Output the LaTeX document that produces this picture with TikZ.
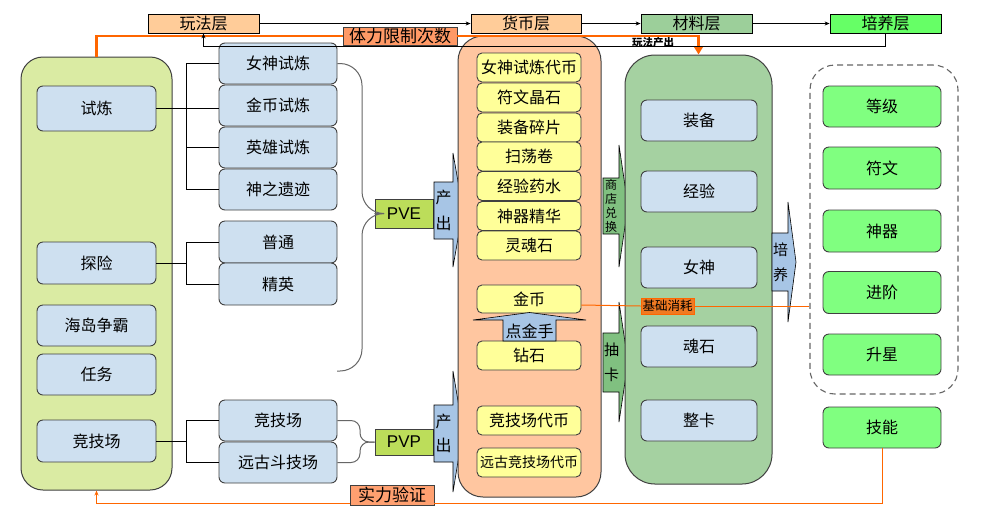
\documentclass[tikz,border=0pt]{standalone}
\usepackage{fontspec}
\setmainfont{Noto Sans CJK SC}
\newfontfamily\latinfont{Liberation Sans}
\usetikzlibrary{arrows.meta,calc}
\newcommand\myfs[2]{\fontsize{#1}{#2}\selectfont}
\definecolor{hOrange}{HTML}{FFCC99}
\definecolor{hMat}{HTML}{9CCF9A}
\definecolor{hGreen}{HTML}{66FF66}
\definecolor{lcFill}{HTML}{DAEBA3}
\definecolor{blueF}{HTML}{CEE0F0}
\definecolor{yellowF}{HTML}{FFFF99}
\definecolor{greenF}{HTML}{80FF80}
\definecolor{ocFill}{HTML}{FFC6A0}
\definecolor{mcFill}{HTML}{A5D1A1}
\definecolor{pvFill}{HTML}{BCDD5A}
\definecolor{arBlue}{HTML}{A7C5E5}
\definecolor{arGreen}{HTML}{80C080}
\definecolor{orLine}{HTML}{FF6600}
\definecolor{lblA}{HTML}{FF9966}
\definecolor{lblB}{HTML}{FFA070}
\definecolor{lblC}{HTML}{F07A22}
\definecolor{bordr}{HTML}{404040}
\tikzset{
  hdr/.style={draw=black, line width=0.8, minimum width=111, minimum height=19, inner sep=0, font=\myfs{16}{16}},
  cont/.style={draw=bordr, line width=1},
  itembox/.style={draw=bordr, line width=0.9, inner sep=0, font=\myfs{16}{16}},
  bbox/.style={itembox, fill=blueF, rounded corners=6, minimum width=119, minimum height=41},
  ybox/.style={itembox, fill=yellowF, rounded corners=5, minimum width=104, minimum height=29},
  gbox/.style={itembox, fill=greenF, rounded corners=6, minimum width=118, minimum height=41},
  mbox/.style={itembox, fill=blueF, rounded corners=6, minimum width=116, minimum height=41},
  pvbox/.style={draw=bordr, line width=0.9, fill=pvFill, minimum width=58, inner sep=0, font=\latinfont\myfs{17}{17}},
  bracket/.style={draw=black, line width=0.9},
  brace/.style={draw=bordr!80, line width=1},
  barrow/.style={draw=black, line width=0.6},
  vtext/.style={inner sep=0, align=center},
  thinarrow/.style={draw=black, line width=0.8, -{Stealth[length=5,width=4]}},
  olabel/.style={draw=bordr, line width=0.8, inner sep=0, font=\myfs{17}{17}},
}
\begin{document}
\begin{tikzpicture}[x=1pt,y=-1pt]
\useasboundingbox[fill=white] (0,0) rectangle (981,515);

% header row
\node[hdr, fill=hOrange] (h1) at (203.5,23.5) {玩法层};
\node[hdr, fill=hOrange, minimum width=110] (h2) at (526,23.5) {货币层};
\node[hdr, fill=hMat] (h3) at (696.5,23.5) {材料层};
\node[hdr, fill=hGreen] (h4) at (885.5,23.5) {培养层};
\draw[thinarrow] (h1) -- (h2);
\draw[thinarrow] (h2) -- (h3);
\draw[thinarrow] (h3) -- (h4);

% left container
\node[cont, fill=lcFill, rounded corners=22, minimum width=151, minimum height=433] (lc) at (96.5,273.5) {};
\node[bbox, minimum height=45] (sl) at (96.5,108.5) {试炼};
\node[bbox, minimum height=42] (tx) at (96.5,263) {探险};
\node[bbox] (hd) at (96.5,325.5) {海岛争霸};
\node[bbox] (rw) at (96.5,374.5) {任务};
\node[bbox, minimum height=42] (jj) at (96.5,441) {竞技场};

% middle column
\node[bbox, minimum width=118] (m1) at (278,63.5) {女神试炼};
\node[bbox, minimum width=118] (m2) at (278,105.5) {金币试炼};
\node[bbox, minimum width=118] (m3) at (278,147.5) {英雄试炼};
\node[bbox, minimum width=118] (m4) at (278,189.5) {神之遗迹};
\node[bbox, minimum width=118, minimum height=42] (m5) at (278,242) {普通};
\node[bbox, minimum width=118, minimum height=42] (m6) at (278,284) {精英};
\node[bbox, minimum width=118] (m7) at (278,420.5) {竞技场};
\node[bbox, minimum width=118] (m8) at (278,462.5) {远古斗技场};

% brackets
\coordinate (bx) at (186.5,0);
\draw[bracket] (m1.west) -- (m1.west -| bx) -- (m4.west -| bx) -- (m4.west);
\draw[bracket] (m3.west) -- (m3.west -| bx);
\draw[bracket] (sl.east) -- (sl.east -| m2.west);
\draw[bracket] (m5.west) -- (m5.west -| bx) -- (m6.west -| bx) -- (m6.west);
\draw[bracket] (tx.east) -- (tx.east -| bx);
\draw[bracket] (m7.west) -- (m7.west -| bx) -- (m8.west -| bx) -- (m8.west);
\draw[bracket] (jj.east) -- (jj.east -| bx);

% PVE / PVP
\node[pvbox, minimum height=29] (pve) at (404,213.5) {PVE};
\node[pvbox, minimum height=26] (pvp) at (404,442) {PVP};
\coordinate (bv) at (362,0);
\coordinate (be) at (337,371);
\draw[brace, rounded corners=22] (m1.east) -- (m1.east -| bv) -- (bv |- pve.west) -- (pve.west);
\draw[brace, rounded corners=22] (pve.west) -- (bv |- pve.west) -- (bv |- be) -- (be);
\coordinate (bv2) at (360,0);
\draw[brace, rounded corners=9] (m7.east) -- (m7.east -| bv2) -- (bv2 |- pvp.west) -- (pvp.west);
\draw[brace, rounded corners=9] (m8.east) -- (m8.east -| bv2) -- (bv2 |- pvp.west) -- (pvp.west);

% block arrows into currency / materials
\draw[barrow, fill=arBlue] (434,182) -- (453,182) -- (453,153) -- (463,210) -- (453,267) -- (453,239) -- (434,239) -- cycle;
\node[vtext, font=\myfs{16}{26}] (cc1) at (443.5,210.5) {产\\出};
\draw[barrow, fill=arBlue] (434,405) -- (453,405) -- (453,371) -- (463,431) -- (453,492) -- (453,462) -- (434,462) -- cycle;
\node[vtext, font=\myfs{16}{24}] (cc2) at (443.5,433.5) {产\\出};
\draw[barrow, fill=arGreen] (603,178) -- (619,178) -- (619,145) -- (628,206) -- (619,267) -- (619,234) -- (603,234) -- cycle;
\node[vtext, font=\myfs{12}{14}] (sd) at (611,206) {商\\店\\兑\\换};
\draw[barrow, fill=arGreen] (603,333) -- (619,333) -- (619,302) -- (628,362) -- (619,422) -- (619,392) -- (603,392) -- cycle;
\node[vtext, font=\myfs{15}{25}] (ck) at (611.5,362.5) {抽\\卡};

% currency container
\node[cont, fill=ocFill, rounded corners=25, minimum width=143, minimum height=461] (oc) at (529.5,266.5) {};
\node[ybox] (y1) at (529,67.5) {女神试炼代币};
\node[ybox] (y2) at (529,97.5) {符文晶石};
\node[ybox] (y3) at (529,127.5) {装备碎片};
\node[ybox] (y4) at (529,156.5) {扫荡卷};
\node[ybox] (y5) at (529,186) {经验药水};
\node[ybox] (y6) at (529,216) {神器精华};
\node[ybox] (y7) at (529,245.5) {灵魂石};
\node[ybox, minimum height=28] (y8) at (529,299) {金币};
\node[ybox] (y9) at (529,355.5) {钻石};
\node[ybox] (y10) at (529,420.5) {竞技场代币};
\node[ybox, font=\myfs{14}{14}] (y11) at (529,462.5) {远古竞技场代币};
\draw[barrow, fill=arBlue] (503,341) -- (503,320) -- (473,320) -- (529.5,312.5) -- (586,320) -- (556,320) -- (556,341) -- cycle;
\node[inner sep=0, font=\myfs{16}{16}] (djs) at (529.5,331) {点金手};

% materials container
\node[cont, fill=mcFill, rounded corners=30, minimum width=147, minimum height=429] (mc) at (698.5,269.5) {};
\node[mbox] (c1) at (699,120.5) {装备};
\node[mbox] (c2) at (699,191.5) {经验};
\node[mbox] (c3) at (699,267.5) {女神};
\node[mbox] (c4) at (699,346.5) {魂石};
\node[mbox] (c5) at (699,420.5) {整卡};

% cultivate arrow
\draw[barrow, fill=arBlue] (772,233) -- (788,233) -- (788,202) -- (796,262) -- (788,322) -- (788,291) -- (772,291) -- cycle;
\node[vtext, font=\myfs{15}{25}] (py) at (780.5,262.5) {培\\养};

% cultivation layer
\node[draw=bordr!80, line width=1.1, dash pattern=on 6pt off 4pt, rounded corners=25, minimum width=148, minimum height=329] (dc) at (884,229.5) {};
\node[gbox] (g1) at (882,106.5) {等级};
\node[gbox, minimum height=42] (g2) at (882,168) {符文};
\node[gbox, minimum height=42] (g3) at (882,231) {神器};
\node[gbox, minimum height=42] (g4) at (882,292.5) {进阶};
\node[gbox] (g5) at (882,354.5) {升星};
\node[gbox] (g6) at (882,427.5) {技能};

% top orange line: stamina limit
\node[olabel, fill=lblA, minimum width=114, minimum height=18] (tl) at (400,36) {体力限制次数};
\draw[orLine, line width=2.6] (lc.north) |- (tl.west);
\draw[orLine, line width=2.6, -{Triangle[length=8,width=9]}] (tl.east) -| (mc.north);

% black feedback line
\coordinate (fb) at (0,46);
\draw[black, line width=0.8, -{Stealth[length=5,width=4]}] (h4.south) -- (h4.south |- fb) -| (h1.south);
\node[inner sep=0, font=\bfseries\myfs{10.5}{10.5}] (wf) at (653,43) {玩法产出};

% bottom orange line: strength check
\coordinate (ob) at (0,503);
\node[olabel, fill=lblB, minimum width=84, minimum height=20] (sv) at (392,495) {实力验证};
\draw[orLine, line width=1] (g6.south) -- (g6.south |- ob) -- (sv.east |- ob);
\draw[orLine, line width=1, -{Stealth[length=5,width=4]}] (sv.west |- ob) -| (lc.south);

% basic consumption line
\node[draw=orLine, line width=0.8, fill=lblC, inner sep=1, minimum width=53, minimum height=16, font=\myfs{12.5}{12.5}] (jc) at (667.5,306) {基础消耗};
\draw[orLine, line width=1] ($(y8.east)+(0,6)$) -- (jc.west);
\draw[orLine, line width=1] (jc.east) -- (jc.east -| dc.west);
\end{tikzpicture}
\end{document}
